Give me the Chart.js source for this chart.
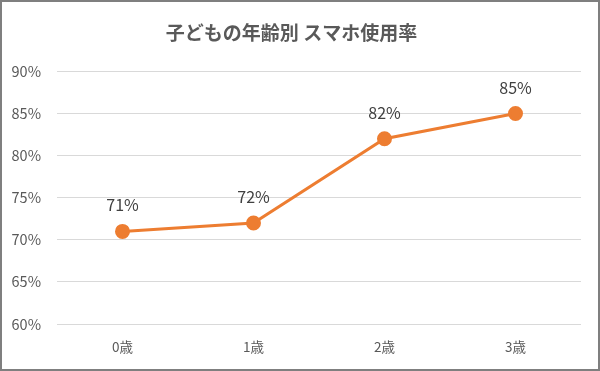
<!DOCTYPE html>
<html><head><meta charset="utf-8">
<script src="https://cdn.jsdelivr.net/npm/chart.js@4/dist/chart.umd.min.js"></script>
<style>
html,body{margin:0;padding:0;background:#fff;}
#wrap{width:596px;height:367px;border:2px solid #7f7f7f;position:relative;}
canvas{display:block;}
</style></head><body>
<div id="wrap"><canvas id="c" width="596" height="367"></canvas></div>
<script>
const categories = ['0歳','1歳','2歳','3歳'];
const usageRate = [71, 72, 82, 85];
const titleText = '子どもの年齢別 スマホ使用率';
const FONT = '"Noto Sans CJK JP", "Noto Sans", sans-serif';

const labelPlugin = {
  id: 'pointLabels',
  afterDatasetsDraw(chart) {
    const ctx = chart.ctx;
    const meta = chart.getDatasetMeta(0);
    ctx.save();
    ctx.font = '16px ' + FONT;
    ctx.fillStyle = '#404040';
    ctx.textAlign = 'center';
    ctx.textBaseline = 'middle';
    meta.data.forEach((pt, i) => {
      ctx.fillText(chart.data.datasets[0].data[i] + '%', pt.x, pt.y - 26);
    });
    ctx.restore();
  }
};

new Chart(document.getElementById('c'), {
  type: 'line',
  data: {
    labels: categories,
    datasets: [{
      data: usageRate,
      borderColor: '#ED7D31',
      backgroundColor: '#ED7D31',
      borderWidth: 3,
      pointRadius: 6,
      pointHoverRadius: 6,
      pointBackgroundColor: '#ED7D31',
      pointBorderColor: '#ED7D31',
      tension: 0
    }]
  },
  options: {
    responsive: false,
    animation: false,
    layout: { padding: { left: 0, right: 17, top: 0, bottom: 0 } },
    plugins: {
      legend: { display: false },
      tooltip: { enabled: false },
      title: {
        display: true,
        text: titleText,
        color: '#595959',
        font: { family: FONT, size: 19, weight: 'bold' },
        padding: { top: 19, bottom: 27.6 }
      }
    },
    scales: {
      x: {
        offset: true,
        grid: { display: false, drawTicks: false },
        border: { display: false },
        ticks: { color: '#595959', font: { family: FONT, size: 13.5 }, padding: 15 },
        afterFit(s) { s.height = 45; }
      },
      y: {
        min: 60, max: 90,
        grid: { color: '#d9d9d9', drawTicks: false, lineWidth: 1 },
        border: { display: false },
        ticks: { stepSize: 5, color: '#595959', font: { family: FONT, size: 14.5 }, padding: 16,
          callback: v => v + '%' },
        afterFit(s) { s.width = 55; }
      }
    }
  },
  plugins: [labelPlugin]
});
</script>
</body></html>
